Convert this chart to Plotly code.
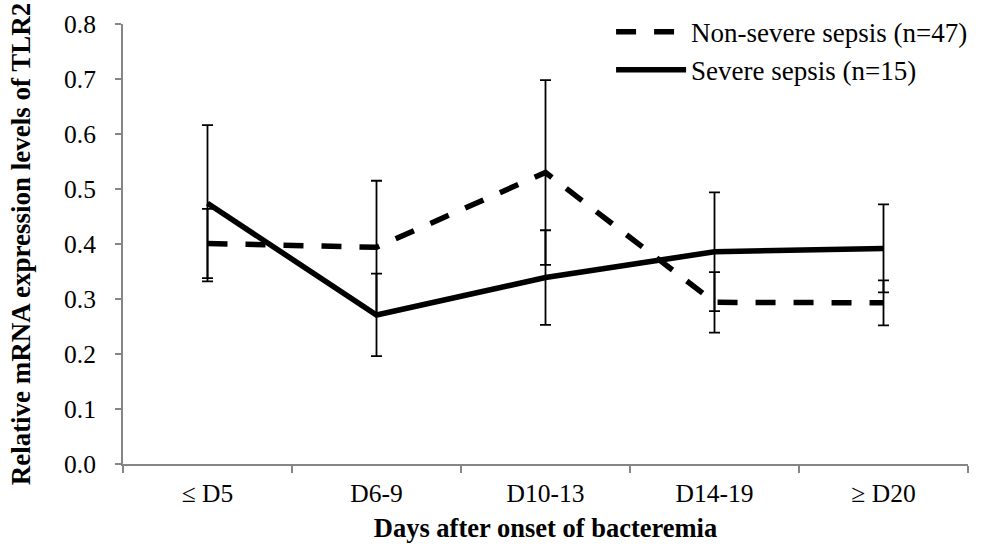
import plotly.graph_objects as go

days = ["\u2264 D5", "D6-9", "D10-13", "D14-19", "\u2265 D20"]
non_severe = [0.401, 0.394, 0.530, 0.294, 0.293]
non_severe_err = [0.063, 0.121, 0.168, 0.055, 0.041]
severe = [0.474, 0.271, 0.339, 0.386, 0.392]
severe_err = [0.142, 0.075, 0.086, 0.108, 0.080]
y_ticks = [0.0, 0.1, 0.2, 0.3, 0.4, 0.5, 0.6, 0.7, 0.8]

FONT = "Liberation Serif, Times New Roman, serif"
AXIS_GREY = "#868686"

fig = go.Figure()
fig.add_trace(go.Scatter(
    x=days, y=non_severe, mode="lines", name="Non-severe sepsis (n=47)",
    legendgroup="a",
    line=dict(color="black", width=5.5, dash="20px,18px"),
    error_y=dict(type="data", array=non_severe_err, visible=True,
                 color="black", thickness=1.8, width=5.5),
))
fig.add_trace(go.Scatter(
    x=days, y=severe, mode="lines", name="Severe sepsis (n=15)",
    legendgroup="b",
    line=dict(color="black", width=5.5),
    error_y=dict(type="data", array=severe_err, visible=True,
                 color="black", thickness=1.8, width=5.5),
))

fig.update_layout(
    width=981, height=550,
    margin=dict(l=123, r=8, t=21, b=86),
    paper_bgcolor="white", plot_bgcolor="white",
    font=dict(family=FONT, size=25.5, color="black"),
    showlegend=True,
    legend=dict(
        x=1.006, y=1.037, xanchor="right", yanchor="top",
        bgcolor="rgba(0,0,0,0)", itemwidth=70,
        tracegroupgap=0, traceorder="grouped",
        font=dict(family=FONT, size=27, color="black"),
    ),
    xaxis=dict(
        type="category", range=[-0.5, 4.5],
        showline=True, linecolor=AXIS_GREY, linewidth=2,
        ticks="outside", tickson="boundaries", ticklen=7,
        tickcolor=AXIS_GREY, tickwidth=1.5,
        ticklabelstandoff=5,
        showgrid=False, zeroline=False,
        tickfont=dict(family=FONT, size=25.5, color="black"),
        title=dict(text="<b>Days after onset of bacteremia</b>",
                   font=dict(family=FONT, size=26.5, color="black"),
                   standoff=12),
    ),
    yaxis=dict(
        range=[0, 0.8], tickvals=y_ticks, tickformat=".1f",
        showline=True, linecolor=AXIS_GREY, linewidth=2,
        ticks="outside", ticklen=6, tickcolor=AXIS_GREY, tickwidth=1.5,
        ticklabelstandoff=14,
        showgrid=False, zeroline=False,
        tickfont=dict(family=FONT, size=25.5, color="black"),
        title=dict(text="<b>Relative mRNA expression levels of TLR2</b>",
                   font=dict(family=FONT, size=27, color="black"),
                   standoff=26),
    ),
)

fig.write_html("out.html")
